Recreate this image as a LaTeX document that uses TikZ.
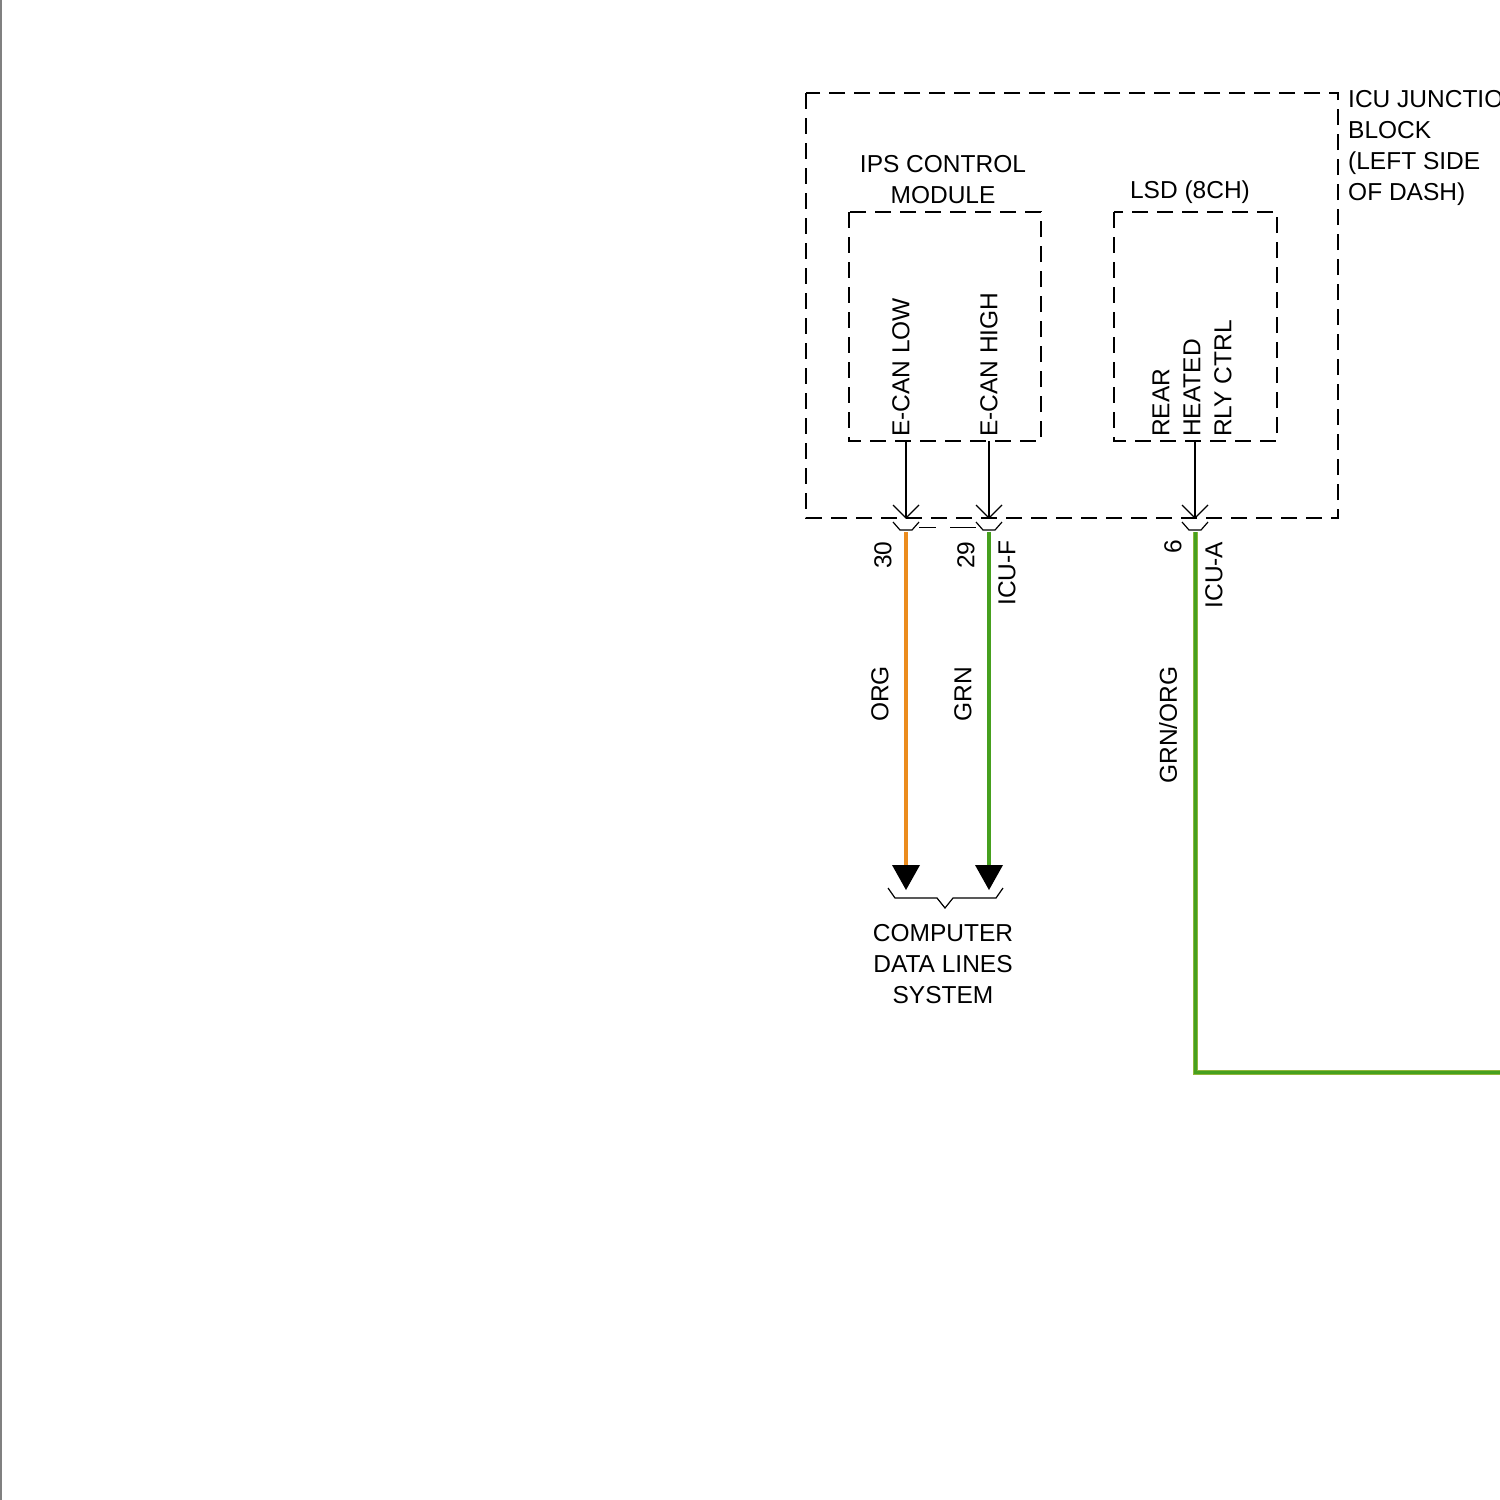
\documentclass[tikz,border=0pt]{standalone}
\usepackage{fontspec}
\setmainfont{Liberation Sans}
\definecolor{wgrn}{RGB}{70,160,30}
\definecolor{worg}{RGB}{235,140,30}
\begin{document}
\begin{tikzpicture}[x=1pt,y=-1pt,
  box/.style={draw,dashed,dash pattern=on 16pt off 9pt,line width=1.3pt},
  lbl/.style={font=\fontsize{24.5}{31}\selectfont,inner sep=0pt},
  rlbl/.style={lbl,rotate=90},
  pin/.style={line width=1.2pt},
  cup/.style={line width=1.2pt},
  wire/.style={line width=4pt}]
\useasboundingbox (0,0) rectangle (1500,1500);
\clip (0,0) rectangle (1500,1500);
\fill[white] (0,0) rectangle (1500,1500);
\draw[gray,line width=1.5pt] (1,0) -- (1,1500);
% boxes
\draw[box] (806,93) rectangle (1338,518);
\draw[box] (849,212) rectangle (1041,441);
\draw[box] (1114,212) rectangle (1277,441);
\node[lbl,anchor=west,align=left] (icu) at (1348,148) {ICU JUNCTION\\BLOCK\\(LEFT SIDE\\OF DASH)};
\node[lbl,align=center] (ips) at (943,180) {IPS CONTROL\\MODULE};
\node[lbl] (lsd) at (1190,192) {LSD (8CH)};
\node[rlbl,anchor=west] (el) at (901,437) {E-CAN LOW};
\node[rlbl,anchor=west] (eh) at (989,437) {E-CAN HIGH};
\node[rlbl,anchor=west] (r1) at (1161,437) {REAR};
\node[rlbl,anchor=west] (r2) at (1192,437) {HEATED};
\node[rlbl,anchor=west] (r3) at (1223,437) {RLY CTRL};
% pin arrows
\foreach \x/\n in {906/a,989/b,1195/c}{
  \coordinate (t\n) at (\x,441);
  \coordinate (p\n) at (\x,518);
  \draw[pin] (t\n) -- (p\n);
  \draw[pin] (\x-13,505) -- (p\n) -- (\x+13,505);
  \draw[cup] (\x-13,522) -- (\x-6,530) -- (\x+6,530) -- (\x+13,522);
  \coordinate (s\n) at (\x,532);
}
\draw[line width=1pt] (919,527) -- (936,527);
\draw[line width=1pt] (950,527) -- (976,527);
% wires
\coordinate (ea) at (906,866);
\coordinate (eb) at (989,866);
\draw[wire,worg] (sa) -- (ea);
\draw[wire,wgrn] (sb) -- (eb);
\fill (892,865) -- (920,865) -- (906,890) -- cycle;
\fill (975,865) -- (1003,865) -- (989,890) -- cycle;
\draw[line width=1.2pt] (888,888) -- (895,898) -- (937,898) -- (945,908) -- (953,898) -- (996,898) -- (1003,888);
\coordinate (bend) at (1195,1072);
\coordinate (rend) at (1505,1072);
\draw[line width=5pt,yellow!60!green!80!black] (sc) -- (bend) -- (rend);
\draw[line width=3pt,wgrn] (sc) -- (bend) -- (rend);
% labels
\node[lbl,align=center] (cdl) at (943,964) {COMPUTER\\DATA LINES\\SYSTEM};
\node[rlbl] (n30) at (883,555) {30};
\node[rlbl] (n29) at (966,555) {29};
\node[rlbl] (icuf) at (1007,573) {ICU-F};
\node[rlbl] (n6) at (1173,547) {6};
\node[rlbl] (icua) at (1214,575) {ICU-A};
\node[rlbl] (org) at (880,694) {ORG};
\node[rlbl] (grn) at (963,694) {GRN};
\node[rlbl] (go) at (1168,725) {GRN/ORG};
\end{tikzpicture}
\end{document}
